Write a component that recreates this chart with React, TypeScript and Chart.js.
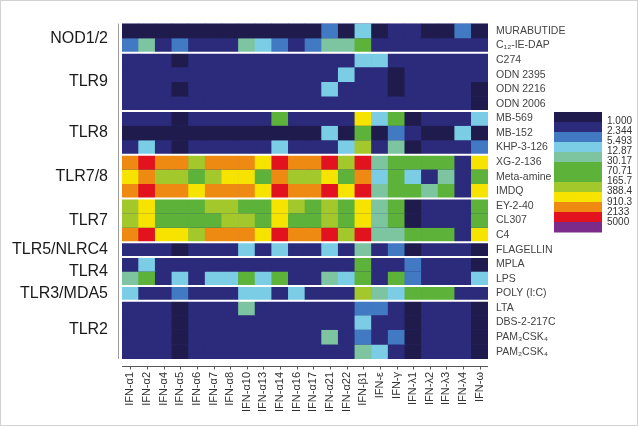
import { useEffect, useRef } from 'react';
import { Chart, registerables } from 'chart.js';
Chart.register(...registerables);

const columns = ['IFN-α1','IFN-α2','IFN-α4','IFN-α5','IFN-α6','IFN-α7','IFN-α8','IFN-α10','IFN-α13','IFN-α14','IFN-α16','IFN-α17','IFN-α21','IFN-α22','IFN-β1','IFN-ε','IFN-γ','IFN-λ1','IFN-λ2','IFN-λ3','IFN-λ4','IFN-ω'];

const groupLabels = ['NOD1/2','TLR9','TLR8','TLR7/8','TLR7','TLR5/NLRC4','TLR4','TLR3/MDA5','TLR2'];
const groupSizes = [2,4,3,3,3,1,2,1,4];

const rowLabels = ['MURABUTIDE','C₁₂-IE-DAP','C274','ODN 2395','ODN 2216','ODN 2006','MB-569','MB-152','KHP-3-126','XG-2-136','Meta-amine','IMDQ','EY-2-40','CL307','C4','FLAGELLIN','MPLA','LPS','POLY (I:C)','LTA','DBS-2-217C','PAM₃CSK₄','PAM₂CSK₄'];

// colour class per level (0 = lowest)
const levelColors = ['#1f1c4d','#2c2a7b','#4179c2','#7bcde5','#7cc5a0','#5db33a','#a2c82c','#f6e400','#ee8a12','#e2131e','#7c2b8a'];
const legendLevels = [0,1,2,3,4,5,5,6,7,8,9,10];
const legendTicks = ['1.000','2.344','5.493','12.87','30.17','70.71','165.7','388.4','910.3','2133','5000'];

// level index per cell, one array per stimulus (columns in order above)
const murabutide = [0,0,0,0,0,0,0,0,0,0,0,0,2,0,3,0,1,1,0,0,2,0];
const c12IeDap   = [2,4,1,2,1,1,1,4,3,2,1,2,4,4,5,1,1,1,1,1,1,1];
const c274       = [1,1,1,0,1,1,1,1,1,1,1,1,1,1,3,3,1,1,1,1,1,1];
const odn2395    = [1,1,1,1,1,1,1,1,1,1,1,1,1,3,1,1,0,1,1,1,1,1];
const odn2216    = [1,1,1,0,1,1,1,1,1,1,1,1,3,1,1,1,0,1,1,1,1,0];
const odn2006    = [1,1,1,1,1,1,1,1,1,1,1,1,1,1,1,1,1,1,1,1,1,0];
const mb569      = [1,1,1,0,1,1,1,1,1,5,1,1,1,1,7,3,5,0,1,1,1,3];
const mb152      = [0,0,0,0,0,0,0,0,0,0,0,0,3,0,5,0,2,1,0,0,3,0];
const khp3126    = [1,3,1,0,1,1,1,1,1,3,1,1,1,3,6,1,4,0,1,1,1,2];
const xg2136     = [8,9,8,8,6,8,8,8,7,9,8,8,9,6,9,4,5,5,5,5,1,7];
const metaAmine  = [7,8,6,6,5,6,7,7,5,8,6,6,7,5,8,3,5,3,1,4,1,5];
const imdq       = [8,9,8,8,7,8,8,8,7,9,8,8,9,7,9,4,5,5,4,5,1,7];
const ey240      = [6,7,5,5,5,6,6,5,5,7,6,5,6,5,7,4,5,0,1,1,1,5];
const cl307      = [6,7,5,5,5,5,6,6,5,7,5,5,6,5,7,4,5,0,1,1,1,5];
const c4         = [8,9,7,7,6,8,8,8,7,9,8,8,9,6,9,4,4,5,5,5,1,7];
const flagellin  = [1,1,1,0,1,1,1,3,1,3,1,1,3,1,4,1,2,0,1,1,1,0];
const mpla       = [1,3,1,1,1,1,1,1,1,1,1,1,1,1,5,1,1,2,1,1,1,0];
const lps        = [4,5,1,3,1,3,3,5,3,5,1,1,4,3,5,1,5,2,1,1,1,3];
const polyIC     = [3,1,1,2,1,1,1,3,3,1,3,1,1,1,6,4,3,5,5,5,1,1];
const lta        = [1,1,1,0,1,1,1,4,1,1,1,1,1,1,2,2,1,0,1,1,1,0];
const dbs2217c   = [1,1,1,0,1,1,1,1,1,1,1,1,1,1,3,1,1,0,1,1,1,0];
const pam3csk4   = [1,1,1,0,1,1,1,1,1,1,1,1,4,1,2,1,2,0,1,1,1,0];
const pam2csk4   = [1,1,1,0,1,1,1,1,1,1,1,1,1,1,4,3,1,0,1,1,1,0];

const rows = [murabutide,c12IeDap,c274,odn2395,odn2216,odn2006,mb569,mb152,khp3126,xg2136,metaAmine,imdq,ey240,cl307,c4,flagellin,mpla,lps,polyIC,lta,dbs2217c,pam3csk4,pam2csk4];

const FONT = '"Liberation Sans", Arial, Helvetica, sans-serif';

export default function App() {
  const ref = useRef<HTMLCanvasElement | null>(null);
  useEffect(() => {
    const canvas = ref.current;
    if (!canvas) return;
    const nRows = rows.length;
    const groupCenters: number[] = [];
    const boundaries: number[] = [];
    let acc = 0;
    groupSizes.forEach((s, i) => {
      groupCenters.push(acc + s / 2);
      acc += s;
      if (i < groupSizes.length - 1) boundaries.push(acc);
    });
    const rowCenters = rows.map((_, i) => i + 0.5);

    const decor = {
      id: 'decor',
      beforeDraw(chart: any) {
        const { ctx, width, height } = chart;
        ctx.save();
        ctx.fillStyle = '#ffffff';
        ctx.fillRect(0, 0, width, height);
        ctx.strokeStyle = '#d2d2d2';
        ctx.lineWidth = 2;
        ctx.strokeRect(0, 0, width, height);
        ctx.restore();
      },
      beforeDatasetsDraw(chart: any) {
        const { ctx, chartArea } = chart;
        ctx.save();
        ctx.fillStyle = levelColors[1];
        ctx.fillRect(chartArea.left, chartArea.top, chartArea.right - chartArea.left, chartArea.bottom - chartArea.top);
        ctx.restore();
      },
      afterDatasetsDraw(chart: any) {
        const { ctx, chartArea, scales } = chart;
        const y = scales.y;
        ctx.save();
        ctx.strokeStyle = '#ffffff';
        ctx.lineWidth = 2;
        boundaries.forEach((b) => {
          const py = y.getPixelForValue(b);
          ctx.beginPath();
          ctx.moveTo(chartArea.left, py);
          ctx.lineTo(chartArea.right, py);
          ctx.stroke();
        });
        // left frame line
        ctx.strokeStyle = '#9a9a9a';
        ctx.lineWidth = 1;
        ctx.beginPath();
        ctx.moveTo(chartArea.left - 3.5, chartArea.top);
        ctx.lineTo(chartArea.left - 3.5, chartArea.bottom);
        ctx.stroke();
        // bottom axis line with ticks
        const x = scales.x;
        const by = Math.round(chartArea.bottom + 7) + 0.5;
        ctx.strokeStyle = '#555555';
        ctx.beginPath();
        ctx.moveTo(chartArea.left, by);
        ctx.lineTo(chartArea.right, by);
        ctx.stroke();
        for (let i = 0; i < columns.length; i++) {
          const px = Math.round(x.getPixelForTick(i)) + 0.5;
          ctx.beginPath();
          ctx.moveTo(px, by);
          ctx.lineTo(px, by + 3);
          ctx.stroke();
        }
        // colour key
        const lx = 554, ly = 112, lw = 48, bh = 10;
        legendLevels.forEach((lv, i) => {
          ctx.fillStyle = levelColors[lv];
          ctx.fillRect(lx, ly + i * bh, lw, bh + 0.5);
        });
        ctx.fillStyle = '#333333';
        ctx.font = '10px ' + FONT;
        ctx.textAlign = 'left';
        ctx.textBaseline = 'middle';
        legendTicks.forEach((t, i) => {
          ctx.fillText(t, 607, 121 + i * 10.1);
        });
        ctx.restore();
      },
    };

    const chart = new Chart(canvas, {
      type: 'bar',
      data: {
        labels: columns,
        datasets: rows.map((levels, i) => ({
          label: rowLabels[i],
          data: columns.map(() => 1),
          backgroundColor: levels.map((l) => levelColors[l]),
          borderWidth: 0,
          barPercentage: 1.04,
          categoryPercentage: 1,
          yAxisID: 'y',
          xAxisID: 'x',
        })),
      },
      options: {
        responsive: false,
        animation: false,
        devicePixelRatio: 1,
        layout: { padding: { top: 7, bottom: 0, left: 0, right: 0 } },
        plugins: { legend: { display: false }, tooltip: { enabled: false } },
        scales: {
          x: {
            type: 'category',
            stacked: true,
            grid: { display: false, drawTicks: false },
            border: { display: false },
            ticks: {
              autoSkip: false,
              minRotation: 90,
              maxRotation: 90,
              padding: 13,
              color: '#333333',
              font: { family: FONT, size: 11 },
            },
            afterFit(scale: any) { scale.height = 67; },
          },
          y: {
            type: 'linear',
            stacked: true,
            reverse: true,
            min: 0,
            max: nRows,
            display: false,
          },
          yGroup: {
            type: 'linear',
            position: 'left',
            reverse: true,
            min: 0,
            max: nRows,
            grid: { display: false, drawTicks: false },
            border: { display: false },
            afterBuildTicks(scale: any) { scale.ticks = groupCenters.map((v) => ({ value: v })); },
            ticks: {
              autoSkip: false,
              padding: 14,
              color: '#1a1a1a',
              font: { family: FONT, size: 16 },
              callback: (_v: any, i: number) => groupLabels[i],
            },
            afterFit(scale: any) { scale.width = 122; },
          },
          yRow: {
            type: 'linear',
            position: 'right',
            reverse: true,
            min: 0,
            max: nRows,
            grid: { display: false, drawTicks: false },
            border: { display: false },
            afterBuildTicks(scale: any) { scale.ticks = rowCenters.map((v) => ({ value: v })); },
            ticks: {
              autoSkip: false,
              padding: 8,
              color: '#444444',
              font: { family: FONT, size: 10.5 },
              callback: (_v: any, i: number) => rowLabels[i],
            },
            afterFit(scale: any) { scale.width = 150; },
          },
        },
      },
      plugins: [decor],
    } as any);
    return () => chart.destroy();
  }, []);
  return (
    <div style={{ position: 'fixed', left: 0, top: 0, width: 638, height: 426 }}>
      <canvas ref={ref} width={638} height={426} style={{ display: 'block', width: 638, height: 426 }} />
    </div>
  );
}
